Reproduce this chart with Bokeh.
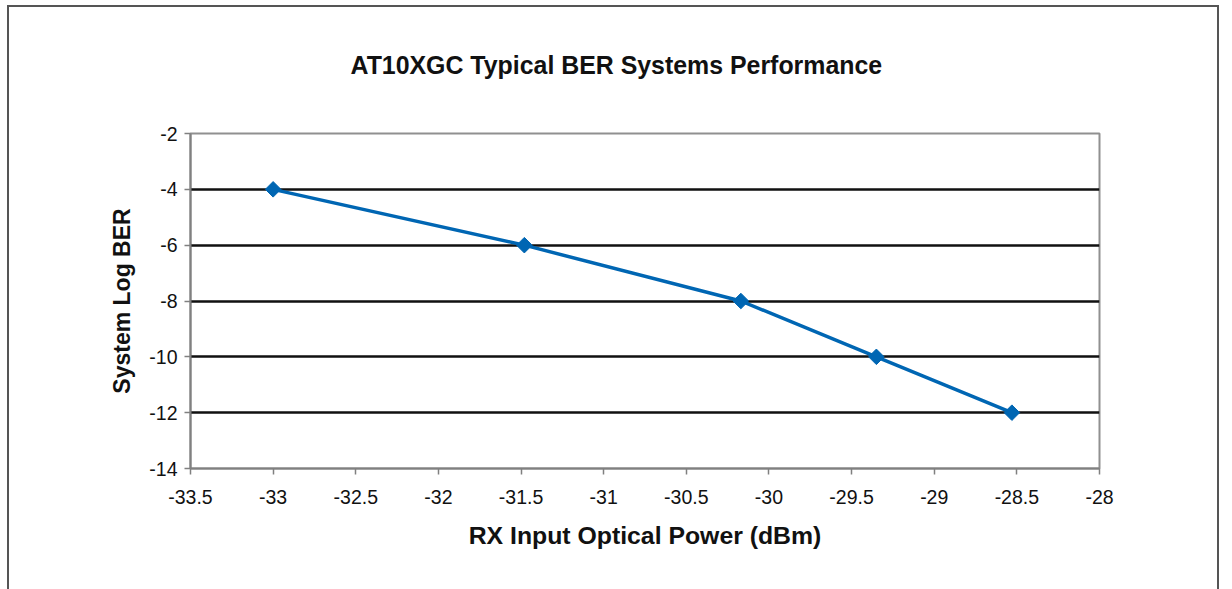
import math
from bokeh.plotting import figure
from bokeh.models import FixedTicker, ColumnDataSource, Title
from bokeh.embed import file_html
from bokeh.resources import INLINE

# Data
rx_power = [-33.0, -31.48, -30.17, -29.35, -28.53]
log_ber = [-4, -6, -8, -10, -12]

x_ticks = [-33.5, -33, -32.5, -32, -31.5, -31, -30.5, -30, -29.5, -29, -28.5, -28]
x_tick_labels = ["-33.5", "-33", "-32.5", "-32", "-31.5", "-31", "-30.5", "-30", "-29.5", "-29", "-28.5", "-28"]
y_ticks = [-14, -12, -10, -8, -6, -4, -2]
y_tick_labels = ["-14", "-12", "-10", "-8", "-6", "-4", "-2"]

title_text = "AT10XGC Typical BER Systems Performance"
x_label = "RX Input Optical Power (dBm)"
y_label = "System Log BER"

FONT = "Liberation Sans"
BLUE = "#0066b3"

p = figure(width=1212, height=590, output_backend="svg", toolbar_location=None,
           x_range=(-33.5, -28), y_range=(-14, -2),
           min_border_left=181, min_border_right=122, min_border_top=126, min_border_bottom=129)
p.styles = {"border": "2px solid #555555", "margin-left": "7px", "margin-top": "5px"}

# default title hidden; a small spacer next to the frame, then the real title
p.title.text = ""
p.title.visible = False
spacer = Title(text=" ", text_font_size="1px", standoff=12)
p.add_layout(spacer, "above")
main_title = Title(text=title_text, text_font=FONT, text_font_size="24.9px",
                   text_font_style="bold", text_color="#111111",
                   align="left", offset=160, standoff=79)
p.add_layout(main_title, "above")

# Grid
p.xgrid.grid_line_color = None
p.ygrid.ticker = FixedTicker(ticks=y_ticks)
p.ygrid.grid_line_color = "#111111"
p.ygrid.grid_line_width = 2.5

p.outline_line_color = "#909090"
p.outline_line_width = 2

# Axes
p.xaxis.ticker = FixedTicker(ticks=x_ticks)
p.yaxis.ticker = FixedTicker(ticks=y_ticks)
p.xaxis.major_label_overrides = {t: l for t, l in zip(x_ticks, x_tick_labels)}
p.yaxis.major_label_overrides = {t: l for t, l in zip(y_ticks, y_tick_labels)}
for ax in (p.xaxis, p.yaxis):
    ax.axis_line_color = "#808080"
    ax.axis_line_width = 2
    ax.major_tick_line_color = "#808080"
    ax.major_tick_line_width = 1.5
    ax.major_tick_out = 6
    ax.major_tick_in = 0
    ax.minor_tick_line_color = None
    ax.major_label_text_font = FONT
    ax.major_label_text_font_size = "19.5px"
    ax.major_label_text_color = "#111111"
    ax.axis_label_text_font = FONT
    ax.axis_label_text_font_style = "bold"
    ax.axis_label_text_color = "#111111"

p.xaxis.axis_label_text_font_size = "24.8px"
p.yaxis.axis_label_text_font_size = "23px"
p.xaxis.axis_label = x_label
p.yaxis.axis_label = y_label
p.xaxis.major_label_standoff = 15
p.yaxis.major_label_standoff = 7
p.xaxis.axis_label_standoff = 15
p.yaxis.axis_label_standoff = 11

src = ColumnDataSource(dict(x=rx_power, y=log_ber))
p.line("x", "y", source=src, line_color=BLUE, line_width=3.5)
p.scatter("x", "y", source=src, marker="square", angle=math.pi / 4, size=11,
          fill_color=BLUE, line_color=BLUE)

open("out.html", "w").write(file_html(p, INLINE))
